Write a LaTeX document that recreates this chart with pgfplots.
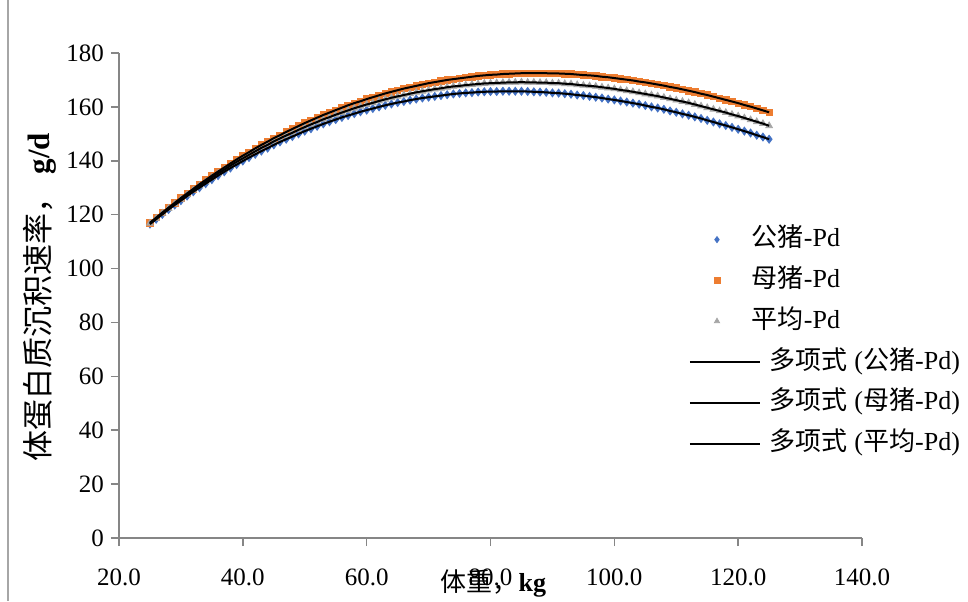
\documentclass[border=0pt]{standalone}
\usepackage{fontspec}
\setmainfont{Liberation Serif}
\newfontfamily\cjk{Noto Sans CJK SC}
\usepackage{pgfplots}
\pgfplotsset{compat=1.18}
\usepackage{pgfplotstable}
\definecolor{cblue}{HTML}{4472C4}
\definecolor{corange}{HTML}{ED7D31}
\definecolor{cgray}{HTML}{A5A5A5}
\definecolor{axgray}{HTML}{868686}

\pgfplotstableread{
x m f a
25 116.5 117.0 116.8
26 118.3 118.9 118.6
27 120.1 120.8 120.5
28 121.9 122.6 122.3
29 123.6 124.4 124.0
30 125.2 126.2 125.7
31 126.9 127.9 127.4
32 128.5 129.6 129.1
33 130.0 131.3 130.7
34 131.5 132.9 132.2
35 133.0 134.5 133.8
36 134.5 136.0 135.3
37 135.9 137.5 136.7
38 137.3 139.0 138.2
39 138.6 140.5 139.6
40 139.9 141.9 140.9
41 141.2 143.2 142.2
42 142.4 144.6 143.5
43 143.6 145.9 144.8
44 144.7 147.1 145.9
45 145.9 148.4 147.2
46 147.0 149.5 148.3
47 148.0 150.7 149.4
48 149.0 151.8 150.4
49 150.0 152.9 151.5
50 151.0 154.0 152.5
51 151.9 155.0 153.5
52 152.8 156.0 154.4
53 153.7 157.0 155.4
54 154.5 157.9 156.2
55 155.3 158.8 157.1
56 156.1 159.7 157.9
57 156.8 160.6 158.7
58 157.5 161.4 159.5
59 158.2 162.1 160.2
60 158.8 162.9 160.9
61 159.4 163.6 161.5
62 160.0 164.3 162.2
63 160.6 165.0 162.8
64 161.1 165.6 163.4
65 161.6 166.2 163.9
66 162.0 166.8 164.4
67 162.5 167.3 164.9
68 162.9 167.8 165.4
69 163.3 168.3 165.8
70 163.6 168.8 166.2
71 163.9 169.2 166.6
72 164.2 169.6 166.9
73 164.5 170.0 167.3
74 164.8 170.3 167.6
75 165.0 170.6 167.8
76 165.2 170.9 168.1
77 165.3 171.2 168.3
78 165.5 171.5 168.5
79 165.6 171.7 168.7
80 165.7 171.9 168.8
81 165.7 172.0 168.9
82 165.8 172.2 169.0
83 165.8 172.3 169.1
84 165.8 172.4 169.1
85 165.8 172.5 169.2
86 165.7 172.5 169.1
87 165.6 172.5 169.1
88 165.5 172.5 169.0
89 165.4 172.5 169.0
90 165.2 172.4 168.8
91 165.1 172.4 168.8
92 164.9 172.3 168.6
93 164.7 172.2 168.5
94 164.4 172.0 168.2
95 164.2 171.8 168.0
96 163.9 171.7 167.8
97 163.6 171.5 167.6
98 163.3 171.2 167.3
99 162.9 171.0 167.0
100 162.6 170.7 166.7
101 162.2 170.4 166.3
102 161.8 170.1 166.0
103 161.4 169.8 165.6
104 161.0 169.4 165.2
105 160.5 169.1 164.8
106 160.0 168.7 164.4
107 159.6 168.3 164.0
108 159.1 167.9 163.5
109 158.5 167.4 163.0
110 158.0 167.0 162.5
111 157.4 166.5 162.0
112 156.9 166.0 161.5
113 156.3 165.5 160.9
114 155.7 164.9 160.3
115 155.0 164.4 159.7
116 154.4 163.8 159.1
117 153.7 163.2 158.5
118 153.1 162.6 157.9
119 152.4 162.0 157.2
120 151.7 161.4 156.6
121 151.0 160.7 155.9
122 150.3 160.1 155.2
123 149.5 159.4 154.5
124 148.8 158.7 153.8
125 148.0 158.0 153.0
}\pdtable

\pgfplotsset{
  markimg/.style={legend image code/.code={\path[draw=none,fill=none] (0pt,-4pt) rectangle (27pt,4pt); \draw[##1, mark size=1.5pt] plot coordinates {(13.5pt,0pt)};}},
  lineimg/.style={legend image code/.code={\path[draw=none,fill=none] (0pt,-4pt) rectangle (27pt,4pt); \draw[##1, overlay] (0pt,0pt) -- (35pt,0pt);}},
}

\begin{document}
\begin{tikzpicture}
\begin{axis}[
  scale only axis, width=371.5pt, height=242.5pt,
  xmin=20, xmax=140, ymin=0, ymax=180,
  xtick={20,40,...,140}, ytick={0,20,...,180},
  axis lines*=left,
  axis line style={axgray, line width=0.75pt},
  tick style={axgray, line width=0.75pt},
  tick align=outside, major tick length=4pt,
  clip marker paths=true,
  /pgf/number format/assume math mode=true,
  tick label style={font=\fontsize{12.5}{15}\selectfont, black},
  xticklabel style={yshift=-8pt, /pgf/number format/.cd, fixed, fixed zerofill, precision=1},
  yticklabel style={/pgf/number format/fixed},
  xlabel={{\cjk 体重，}\textbf{kg}},
  ylabel={{\cjk 体蛋白质沉积速率，} \textbf{g/d}},
  xlabel style={font=\fontsize{13}{15}\selectfont, at={(axis description cs:0.504,-0.0928)}, anchor=center},
  ylabel style={font=\fontsize{15.5}{17}\selectfont, at={(axis description cs:-0.1063,0.497)}, anchor=center},
  legend style={draw=none, fill=none, at={(axis description cs:0.7685,0.642)}, anchor=north west,
    inner sep=0pt, outer sep=0pt, font=\fontsize{13}{15}\selectfont, row sep=7.4pt, column sep=4pt,
    nodes={inner sep=0pt, text height=10pt, text depth=3pt}},
  legend cell align=left,
]
\addplot[only marks, mark=diamond*, mark size=2pt, color=cblue, markimg] table[x=x, y=m] {\pdtable};
\addlegendentry{{\cjk 公猪}-Pd}
\addplot[only marks, mark=square*, mark size=1.6pt, color=corange, markimg] table[x=x, y=f] {\pdtable};
\addlegendentry{{\cjk 母猪}-Pd}
\addplot[only marks, mark=triangle*, mark size=1.9pt, color=cgray, markimg] table[x=x, y=a] {\pdtable};
\addlegendentry{{\cjk 平均}-Pd}
\addplot[no marks, black, line width=1pt, lineimg] table[x=x, y=m] {\pdtable};
\addlegendentry{\hspace{9pt}{\cjk 多项式} ({\cjk 公猪}-Pd)}
\addplot[no marks, black, line width=1pt, lineimg] table[x=x, y=f] {\pdtable};
\addlegendentry{\hspace{9pt}{\cjk 多项式} ({\cjk 母猪}-Pd)}
\addplot[no marks, black, line width=1pt, lineimg] table[x=x, y=a] {\pdtable};
\addlegendentry{\hspace{9pt}{\cjk 多项式} ({\cjk 平均}-Pd)}
\end{axis}
\draw[black!35, line width=0.75pt] (-55.5pt,-31.5pt) -- (-55.5pt,269pt);
\pgfresetboundingbox
\path[use as bounding box] (-59.5pt,-31.5pt) rectangle (424.5pt,269pt);
\end{tikzpicture}
\end{document}
